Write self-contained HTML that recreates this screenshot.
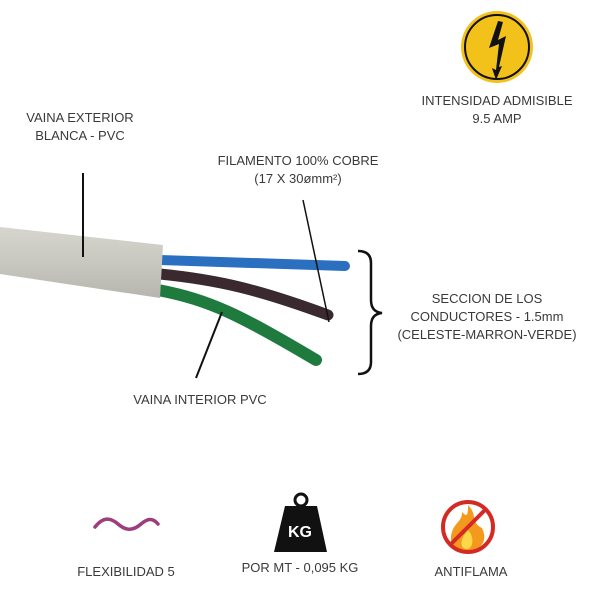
<!DOCTYPE html>
<html><head><style>
body{margin:0;background:#fff;}
.t{position:absolute;font-family:"Liberation Sans",sans-serif;font-size:13px;color:#3a3a3a;text-align:center;line-height:18px;white-space:nowrap;transform:translateX(-50%);}
</style></head><body>
<div style="position:relative;width:600px;height:600px;overflow:hidden;">
<svg width="600" height="600" style="position:absolute;left:0;top:0">
<defs><linearGradient id="g" x1="0" y1="0" x2="0" y2="1"><stop offset="0" stop-color="#d6d6ce"/><stop offset="0.5" stop-color="#c8c8c1"/><stop offset="1" stop-color="#b6b6af"/></linearGradient></defs>
<path d="M160 260 L345 266" stroke="#2a6fc0" stroke-width="10" stroke-linecap="round" fill="none"/>
<path d="M160 274 C220 280 260 290 328 315" stroke="#3a2a30" stroke-width="11" stroke-linecap="round" fill="none"/>
<path d="M158 290 C210 300 240 315 316 360" stroke="#1f7a3e" stroke-width="12" stroke-linecap="round" fill="none"/>
<path d="M0 227 L163 245 L160 298 L0 274 Z" fill="url(#g)"/>
<line x1="83" y1="173" x2="83" y2="257" stroke="#111" stroke-width="2"/>
<line x1="303" y1="200" x2="329" y2="322" stroke="#111" stroke-width="1.5"/>
<line x1="222" y1="312" x2="196" y2="378" stroke="#111" stroke-width="2"/>
<path d="M358 251 Q371 251 371 263 L371 300 Q371 312 382 313 Q371 314 371 326 L371 362 Q371 374 358 374" stroke="#111" stroke-width="2.5" fill="none"/>
<circle cx="497" cy="47" r="36" fill="#f2c21b"/>
<circle cx="497" cy="47" r="32" fill="none" stroke="#111" stroke-width="2"/>
<path d="M498 21 L489 48 L499 44 L496 70 L492 68 L496 80 L502 66 L499 67 L506 36 L498 40 L503 22 Z" fill="#111"/>
<path d="M95 527 C103 517 110 517 118 524 C126 531 133 531 141 524 C148 518 153 518 158 524" stroke="#9c3d7c" stroke-width="3.5" fill="none" stroke-linecap="round"/>
<circle cx="301" cy="500" r="6" fill="none" stroke="#111" stroke-width="3"/>
<path d="M285 506 L317 506 L327 552 L274 552 Z" fill="#111"/>
<text x="300" y="537" font-family="Liberation Sans" font-weight="bold" font-size="16" fill="#fff" text-anchor="middle">KG</text>
<path d="M468 505 C478 515 470 522 482 528 C488 540 482 550 468 552 C455 552 448 543 452 532 C455 522 462 522 462 512 C466 516 468 518 468 505 Z" fill="#f39a1e"/>
<path d="M468 530 C474 536 474 548 467 549 C460 549 459 540 468 530 Z" fill="#fbd84a"/>
<circle cx="468" cy="527" r="25" fill="none" stroke="#d42a24" stroke-width="4"/>
<line x1="450" y1="545" x2="486" y2="509" stroke="#d42a24" stroke-width="4"/>
</svg>
<div class="t" style="left:80px;top:109px">VAINA EXTERIOR<br>BLANCA - PVC</div>
<div class="t" style="left:298px;top:152px">FILAMENTO 100% COBRE<br>(17 X 30ømm²)</div>
<div class="t" style="left:497px;top:92px">INTENSIDAD ADMISIBLE<br>9.5 AMP</div>
<div class="t" style="left:487px;top:290px">SECCION DE LOS<br>CONDUCTORES - 1.5mm<br>(CELESTE-MARRON-VERDE)</div>
<div class="t" style="left:200px;top:391px">VAINA INTERIOR PVC</div>
<div class="t" style="left:126px;top:563px">FLEXIBILIDAD 5</div>
<div class="t" style="left:300px;top:559px">POR MT - 0,095 KG</div>
<div class="t" style="left:471px;top:563px">ANTIFLAMA</div>
</div>
</body></html>
